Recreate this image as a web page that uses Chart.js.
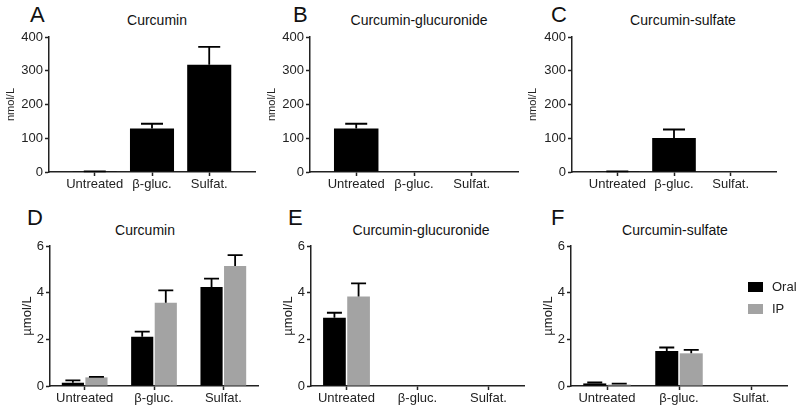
<!DOCTYPE html>
<html lang="en">
<head>
<meta charset="UTF-8" />
<title>Curcumin and metabolites</title>
<script src="https://cdn.jsdelivr.net/npm/chart.js@4"></script>
<style>
  body { margin: 0; width: 800px; height: 414px; position: relative; overflow: hidden; background: #fff;
         font-family: "Liberation Sans", Arial, sans-serif; color: #111; }
  canvas { position: absolute; }
  .letter { position: absolute; font-size: 22px; line-height: 22px; }
  .title { position: absolute; font-size: 14px; line-height: 14px; transform: translateX(-50%); white-space: nowrap; }
</style>
</head>
<body>
<div class="letter" style="left:30px;top:4px">A</div>
<div class="letter" style="left:293px;top:4px">B</div>
<div class="letter" style="left:551px;top:4px">C</div>
<div class="letter" style="left:27px;top:207px">D</div>
<div class="letter" style="left:288px;top:207px">E</div>
<div class="letter" style="left:551px;top:207px">F</div>

<div class="title" style="left:157px;top:13px">Curcumin</div>
<div class="title" style="left:419px;top:13px">Curcumin-glucuronide</div>
<div class="title" style="left:683px;top:13px">Curcumin-sulfate</div>
<div class="title" style="left:145px;top:223px">Curcumin</div>
<div class="title" style="left:421px;top:223px">Curcumin-glucuronide</div>
<div class="title" style="left:675px;top:223px">Curcumin-sulfate</div>

<canvas id="chartA" width="262" height="200" style="left:0;top:0"></canvas>
<canvas id="chartB" width="262" height="200" style="left:262px;top:0"></canvas>
<canvas id="chartC" width="276" height="200" style="left:524px;top:0"></canvas>
<canvas id="chartD" width="262" height="214" style="left:0;top:200px"></canvas>
<canvas id="chartE" width="268" height="214" style="left:262px;top:200px"></canvas>
<canvas id="chartF" width="270" height="214" style="left:530px;top:200px"></canvas>

<script>
  const categories = ["Untreated", "\u03b2-gluc.", "Sulfat."];
  const seriesNames = ["Oral", "IP"];

  // top row, nmol/L
  const curcuminNmol = [0.5, 129, 318];
  const curcuminNmolErr = [1.5, 14, 53];
  const glucuronideNmol = [129, 0, 0];
  const glucuronideNmolErr = [14, 0, 0];
  const sulfateNmol = [0.5, 101, 0];
  const sulfateNmolErr = [1.5, 25, 0];

  // bottom row, umol/L, oral vs IP
  const curcuminOral = [0.14, 2.11, 4.24];
  const curcuminOralErr = [0.1, 0.22, 0.36];
  const curcuminIP = [0.37, 3.57, 5.14];
  const curcuminIPErr = [0.02, 0.53, 0.47];
  const glucuronideOral = [2.92, 0, 0];
  const glucuronideOralErr = [0.22, 0, 0];
  const glucuronideIP = [3.84, 0, 0];
  const glucuronideIPErr = [0.56, 0, 0];
  const sulfateOral = [0.11, 1.5, 0];
  const sulfateOralErr = [0.04, 0.15, 0];
  const sulfateIP = [0.06, 1.4, 0];
  const sulfateIPErr = [0.04, 0.15, 0];

  const ink = "#222";
  const black = "#000";
  const grey = "#a3a3a3";
  const fontFamily = '"Liberation Sans", Arial, sans-serif';

  // one-sided (upper) error bars
  const errorBars = {
    id: "errorBars",
    afterDatasetsDraw(chart) {
      const ctx = chart.ctx;
      const yScale = chart.scales.y;
      ctx.save();
      ctx.strokeStyle = black;
      ctx.lineWidth = 1.8;
      chart.data.datasets.forEach((ds, di) => {
        const meta = chart.getDatasetMeta(di);
        meta.data.forEach((bar, i) => {
          const err = ds.errors[i];
          if (!err) return;
          const top = yScale.getPixelForValue(ds.values[i] + err);
          const half = ds.capWidth / 2;
          ctx.beginPath();
          ctx.moveTo(bar.x, bar.y);
          ctx.lineTo(bar.x, top);
          ctx.moveTo(bar.x - half, top);
          ctx.lineTo(bar.x + half, top);
          ctx.stroke();
        });
      });
      ctx.restore();
    },
  };

  // legend drawn inside panel F
  const insideLegend = {
    id: "insideLegend",
    afterDraw(chart, args, opts) {
      if (!opts.show) return;
      const ctx = chart.ctx;
      ctx.save();
      ctx.font = "13px " + fontFamily;
      ctx.textBaseline = "middle";
      chart.data.datasets.forEach((ds, i) => {
        const y = opts.y + i * 22;
        ctx.fillStyle = ds.backgroundColor;
        ctx.fillRect(opts.x, y, 15, 10);
        ctx.fillStyle = ink;
        ctx.fillText(ds.label, opts.x + 24, y + 5);
      });
      ctx.restore();
    },
  };

  function axisY(cfg) {
    return {
      min: 0,
      max: cfg.max,
      ticks: { stepSize: cfg.step, color: ink, padding: 2, font: { family: fontFamily, size: 13 } },
      grid: { drawOnChartArea: false, tickLength: 4, tickColor: ink, tickWidth: 1.5 },
      border: { color: ink, width: 1.5 },
      title: {
        display: true,
        text: cfg.unit,
        color: ink,
        font: { family: fontFamily, size: cfg.unitSize },
        padding: { top: cfg.unitPad, bottom: 0 },
      },
      afterFit: (s) => { s.width = cfg.yWidth; },
    };
  }

  function xTicks() {
    return { color: ink, padding: 1, maxRotation: 0, autoSkip: false, font: { family: fontFamily, size: 13 } };
  }

  // top row: linear x so the axis runs a bit past the outer bars, like the original
  function topPanel(id, values, errors, cfg) {
    return new Chart(document.getElementById(id), {
      type: "bar",
      data: {
        datasets: [{
          label: "nmol/L",
          data: values.map((v, i) => ({ x: i, y: v })),
          values: values,
          errors: errors,
          capWidth: 22,
          backgroundColor: black,
          categoryPercentage: 1,
          barPercentage: 0.77,
        }],
      },
      options: {
        responsive: false,
        animation: false,
        devicePixelRatio: 1,
        layout: { padding: { left: 0, top: 37, right: cfg.padRight, bottom: 0 } },
        plugins: { legend: { display: false }, tooltip: { enabled: false } },
        scales: {
          x: {
            type: "linear",
            offset: false,
            bounds: "data",
            grace: 0,
            min: -0.8,
            max: 2.8,
            afterDataLimits: (s) => { s.min = -0.8; s.max = 2.8; },
            afterBuildTicks: (s) => { s.ticks = categories.map((c, i) => ({ value: i })); },
            ticks: Object.assign(xTicks(), { includeBounds: false, stepSize: 1, callback: (v) => categories[v] }),
            grid: { drawOnChartArea: false, offset: false, tickLength: 4, tickColor: ink, tickWidth: 1.5 },
            border: { color: ink, width: 1.5 },
            afterFit: (s) => { s.height = 28; },
          },
          y: axisY({ max: 400, step: 100, unit: "nmol/L", unitSize: 11, unitPad: cfg.unitPad, yWidth: cfg.yWidth }),
        },
      },
      plugins: [errorBars],
    });
  }

  function bottomPanel(id, oral, oralErr, ip, ipErr, cfg) {
    const base = { categoryPercentage: 0.68, barPercentage: 0.94, capWidth: 15 };
    return new Chart(document.getElementById(id), {
      type: "bar",
      data: {
        labels: categories,
        datasets: [
          Object.assign({ label: seriesNames[0], data: oral, values: oral, errors: oralErr, backgroundColor: black }, base),
          Object.assign({ label: seriesNames[1], data: ip, values: ip, errors: ipErr, backgroundColor: grey }, base),
        ],
      },
      options: {
        responsive: false,
        animation: false,
        devicePixelRatio: 1,
        layout: { padding: { left: 0, top: 46, right: cfg.padRight, bottom: 0 } },
        plugins: {
          legend: { display: false },
          tooltip: { enabled: false },
          insideLegend: { show: !!cfg.legend, x: 218, y: 82 },
        },
        scales: {
          x: {
            ticks: xTicks(),
            grid: { drawOnChartArea: false, offset: false, tickLength: 4, tickColor: ink, tickWidth: 1.5 },
            border: { color: ink, width: 1.5 },
            afterFit: (s) => { s.height = 28; },
          },
          y: axisY({ max: 6, step: 2, unit: "\u00b5mol/L", unitSize: 13, unitPad: cfg.unitPad, yWidth: cfg.yWidth }),
        },
      },
      plugins: [errorBars, insideLegend],
    });
  }

  topPanel("chartA", curcuminNmol, curcuminNmolErr, { yWidth: 49, padRight: 7, unitPad: 4 });
  topPanel("chartB", glucuronideNmol, glucuronideNmolErr, { yWidth: 48, padRight: 6, unitPad: 3 });
  topPanel("chartC", sulfateNmol, sulfateNmolErr, { yWidth: 48, padRight: 24, unitPad: 2 });

  bottomPanel("chartD", curcuminOral, curcuminOralErr, curcuminIP, curcuminIPErr, { yWidth: 50, padRight: 4, unitPad: 20 });
  bottomPanel("chartE", glucuronideOral, glucuronideOralErr, glucuronideIP, glucuronideIPErr, { yWidth: 49, padRight: 6, unitPad: 19 });
  bottomPanel("chartF", sulfateOral, sulfateOralErr, sulfateIP, sulfateIPErr, { yWidth: 41, padRight: 13, unitPad: 11, legend: true });
</script>
</body>
</html>
